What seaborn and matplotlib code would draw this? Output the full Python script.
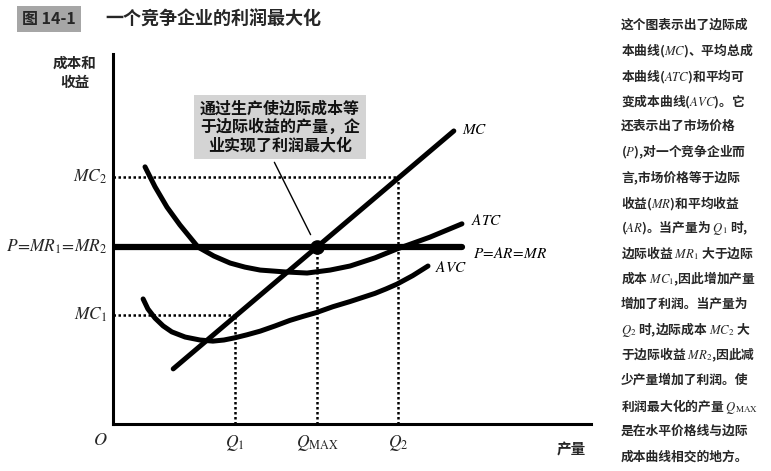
import matplotlib
matplotlib.use("Agg")
import matplotlib.pyplot as plt
import seaborn as sns

# ---------------- data (quantity 0-100, cost 0-100) ----------------
mc_q = [12.6, 71.3]
mc_c = [14.9, 79.2]

atc_q = [6.7, 8.8, 11.3, 14.0, 17.8, 21.1, 24.5, 27.6, 30.8, 36.0, 40.6, 45.4, 49.6, 54.8, 59.4, 66.3, 73.0]
atc_c = [69.5, 64.1, 58.6, 53.8, 47.8, 45.4, 43.5, 42.4, 41.6, 41.1, 40.8, 41.6, 42.7, 44.9, 47.3, 50.5, 54.1]

avc_q = [6.3, 7.3, 8.8, 10.5, 12.3, 15.1, 18.2, 20.9, 23.2, 25.5, 28.0, 30.8, 33.9, 37.0, 39.8,
         42.5, 46.0, 49.6, 52.2, 54.8, 57.1, 59.4, 62.7, 65.9]
avc_c = [33.8, 31.1, 28.6, 26.5, 24.9, 23.5, 22.7, 22.4, 22.7, 23.3, 24.1, 25.1, 26.5, 28.0, 29.1,
         30.1, 31.7, 33.1, 34.2, 35.3, 36.5, 37.8, 40.1, 42.7]

price = 47.8
price_q = [0.0, 73.0]

q1, q_max, q2 = 25.5, 42.7, 59.6
mc1, mc2 = 29.5, 66.8

q_labels = ["$Q_1$", r"$Q_{\rm MAX}$", "$Q_2$"]
cost_labels = ["$MC_1$", r"$P\!=\!MR_1\!=\!MR_2$", "$MC_2$"]

title = "一个竞争企业的利润最大化"
fig_no = "图 14-1"
note = "通过生产使边际成本等\n于边际收益的产量，企\n业实现了利润最大化"
caption = [
    "这个图表示出了边际成",
    "本曲线($MC$)、平均总成",
    "本曲线($ATC$)和平均可",
    "变成本曲线($AVC$)。它",
    "还表示出了市场价格",
    "($P$),对一个竞争企业而",
    "言,市场价格等于边际",
    "收益($MR$)和平均收益",
    "($AR$)。当产量为 $Q_1$ 时,",
    "边际收益 $MR_1$ 大于边际",
    "成本 $MC_1$,因此增加产量",
    "增加了利润。当产量为",
    "$Q_2$ 时,边际成本 $MC_2$ 大",
    "于边际收益 $MR_2$,因此减",
    "少产量增加了利润。使",
    r"利润最大化的产量 $Q_{\rm MAX}$",
    "是在水平价格线与边际",
    "成本曲线相交的地方。",
]

# ---------------- style ----------------
sns.set_theme(style="white")
plt.rcParams["font.family"] = ["Noto Sans CJK SC", "DejaVu Sans"]
plt.rcParams["mathtext.fontset"] = "stix"

W, H = 771, 471
fig = plt.figure(figsize=(W / 100, H / 100), dpi=100)
ax = fig.add_axes([113 / W, 47 / H, 478 / W, 370 / H])
ax.set_xlim(0, 100)
ax.set_ylim(0, 100)
for s in ["top", "right"]:
    ax.spines[s].set_visible(False)
for s in ["left", "bottom"]:
    ax.spines[s].set_linewidth(2.2)
    ax.spines[s].set_color("black")
ax.set_xticks([])
ax.set_yticks([])

dot = (0, (1, 1))
# dotted guides
ax.plot([0, q2], [mc2, mc2], color="black", lw=1.8, ls=dot)
ax.plot([q2, q2], [0, mc2], color="black", lw=1.8, ls=dot)
ax.plot([0, q1], [mc1, mc1], color="black", lw=1.8, ls=dot)
ax.plot([q1, q1], [0, mc1], color="black", lw=1.8, ls=dot)
ax.plot([q_max, q_max], [0, price], color="black", lw=1.8, ls=dot)

# curves
sns.lineplot(x=atc_q, y=atc_c, sort=False, estimator=None, color="black", lw=3.6, ax=ax)
sns.lineplot(x=avc_q, y=avc_c, sort=False, estimator=None, color="black", lw=3.6, ax=ax)
sns.lineplot(x=mc_q, y=mc_c, sort=False, estimator=None, color="black", lw=3.6, ax=ax)
sns.lineplot(x=price_q, y=[price, price], sort=False, estimator=None, color="black", lw=4.5, ax=ax)
ax.scatter([q_max], [price], s=90, color="black", zorder=5)

# curve labels
lab = dict(fontsize=11, color="black", va="center", ha="left", clip_on=False)
ax.text(mc_q[-1] + 1.8, mc_c[-1] + 0.5, "$MC$", **lab)
ax.text(atc_q[-1] + 1.9, atc_c[-1] + 0.8, "$ATC$", **lab)
ax.text(avc_q[-1] + 1.5, avc_c[-1] - 0.3, "$AVC$", **lab)
ax.text(price_q[-1] + 2.3, price - 1.6, r"$P\!=\!AR\!=\!MR$", **lab)

# axis value labels
for q, t in zip([q1, q_max, q2], q_labels):
    ax.text(q, -5.2, t, fontsize=12.5, ha="center", va="center", clip_on=False)
for c, t in zip([mc1, price, mc2], cost_labels):
    ax.text(-1.3, c, t, fontsize=12.5, ha="right", va="center", clip_on=False)
ax.text(-2.7, -4.3, "$O$", fontsize=13, ha="center", va="center", clip_on=False)

fig.text(571 / W, 1 - 449 / H, "产量", fontsize=10.5, fontweight="bold", ha="center", va="center")
fig.text(75 / W, 1 - 72 / H, "成本和\n收益", fontsize=10.5, fontweight="bold",
         ha="center", va="center", linespacing=1.25)

# annotation
fig.text(280 / W, 1 - 127 / H, note, fontsize=11.5, fontweight="bold", ha="center", va="center",
         linespacing=1.15, color="#111111",
         bbox=dict(boxstyle="square,pad=0.35", facecolor="#d4d4d4", edgecolor="none"))
ax.annotate("", xy=(41.6, 50.5), xytext=(33.5, 71.4),
            arrowprops=dict(arrowstyle="-", color="black", lw=1.0))

# title
fig.text(49 / W, 1 - 19 / H, fig_no, fontsize=11.5, fontweight="bold", ha="center", va="center",
         bbox=dict(boxstyle="square,pad=0.3", facecolor="#a6a6a6", edgecolor="none"))
fig.text(105 / W, 1 - 19 / H, title, fontsize=13, fontweight="bold", ha="left", va="center")

# caption
for i, line in enumerate(caption):
    fig.text(621 / W, 1 - (25 + i * 25.4) / H, line, fontsize=9.2, fontweight="bold",
             ha="left", va="center")

fig.savefig("out.png", dpi=100)
